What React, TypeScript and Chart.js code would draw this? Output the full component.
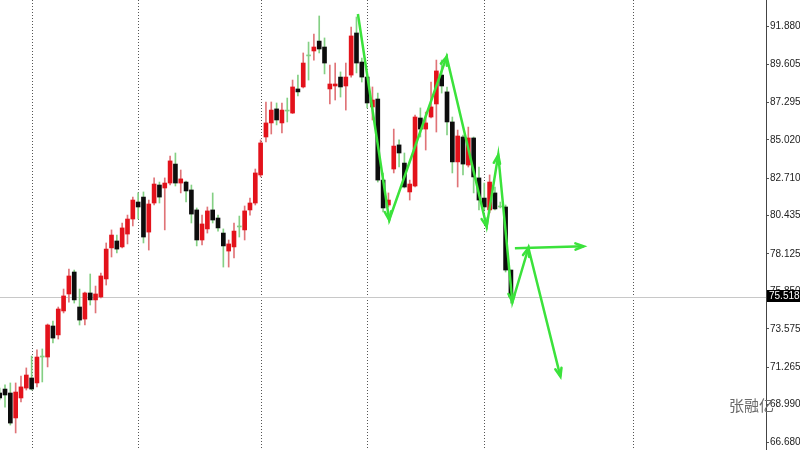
import { useEffect, useRef } from "react";
import { Chart, registerables } from "chart.js";

Chart.register(...registerables);

// Daily OHLC bars
const opens = [
  69.69, 69.93, 69.69, 68.18, 69.39, 69.99, 70.6, 70.3, 71.87, 71.87,
  73.75, 73.21, 74.66, 75.69, 77.02, 74.9, 74.17, 75.75, 75.33, 75.51,
  76.6, 78.48, 78.9, 78.54, 79.32, 80.23, 81.26, 81.56, 79.44, 81.2,
  82.29, 82.11, 82.41, 83.56, 82.41, 82.47, 81.99, 80.78, 78.96, 79.63,
  80.78, 80.29, 79.38, 78.29, 78.54, 79.75, 79.57, 80.78, 81.2, 82.9,
  85.2, 86.05, 86.9, 86.05, 86.77, 86.65, 88.11, 88.23, 90.11, 90.41,
  91.01, 90.65, 88.11, 88.29, 88.83, 88.29, 88.95, 91.5, 89.74, 88.83,
  87.02, 87.5, 82.59, 81.08, 83.26, 84.72, 83.62, 81.87, 82.23, 86.35,
  85.68, 86.41, 87.2, 88.95, 87.93, 86.11, 83.69, 85.2, 83.5, 85.14,
  82.72, 81.5, 80.78, 81.81, 80.96, 80.96, 77.14,
];
const highs = [
  69.99, 70.18, 70.3, 70.3, 70.72, 71.21, 71.93, 72.3, 72.36, 73.87,
  74.05, 74.9, 75.99, 77.2, 77.14, 75.99, 75.81, 76.9, 76.17, 76.96,
  78.78, 79.57, 79.26, 79.99, 80.47, 81.56, 81.81, 81.87, 81.38, 82.72,
  82.47, 82.72, 84.05, 84.23, 83.2, 82.53, 82.29, 80.9, 80.47, 80.96,
  81.81, 80.47, 79.63, 78.96, 79.99, 80.41, 81.02, 81.5, 83.26, 85.02,
  87.32, 87.32, 87.26, 87.26, 87.56, 88.65, 88.95, 90.29, 90.95, 91.44,
  92.53, 91.2, 89.56, 89.68, 89.14, 89.68, 91.86, 92.47, 89.98, 88.95,
  88.23, 87.86, 83.02, 81.81, 85.68, 85.02, 84.23, 82.59, 86.53, 86.96,
  86.71, 88.53, 89.86, 89.86, 88.23, 86.41, 85.62, 85.32, 85.8, 85.2,
  83.38, 82.41, 82.9, 82.17, 81.26, 81.08, 77.14,
];
const lows = [
  69.27, 68.84, 67.75, 67.27, 69.15, 69.87, 69.87, 70.06, 70.36, 71.27,
  72.72, 72.96, 74.54, 75.2, 75.14, 73.81, 73.81, 75.02, 74.54, 75.45,
  76.23, 77.93, 78.17, 78.48, 78.72, 79.81, 80.23, 78.78, 78.35, 81.08,
  81.2, 79.57, 82.29, 82.23, 81.81, 81.26, 79.99, 78.6, 78.66, 79.38,
  79.99, 79.5, 77.32, 77.32, 77.87, 79.14, 78.96, 80.47, 81.08, 82.78,
  84.9, 85.38, 85.93, 85.44, 86.11, 86.62, 87.68, 88.17, 88.65, 89.86,
  90.29, 89.02, 87.2, 87.44, 87.62, 86.83, 88.83, 89.08, 88.53, 86.96,
  86.23, 82.47, 80.66, 80.96, 83.02, 83.38, 82.11, 81.38, 82.17, 85.2,
  84.41, 86.35, 85.5, 87.86, 85.32, 83.02, 82.17, 82.9, 83.38, 81.81,
  80.78, 80.78, 80.6, 80.78, 80.9, 77.02, 75.14,
];
const closes = [
  69.39, 69.57, 67.87, 69.75, 70.06, 70.78, 69.93, 71.87, 71.87, 73.81,
  73.02, 74.78, 75.57, 76.78, 75.33, 74.11, 75.75, 75.33, 75.69, 76.78,
  78.41, 79.26, 78.41, 79.69, 80.23, 81.38, 80.96, 79.14, 81.14, 82.35,
  81.56, 82.41, 83.75, 82.41, 82.66, 81.93, 80.53, 78.96, 79.93, 80.72,
  80.17, 79.69, 78.6, 78.72, 79.5, 79.75, 80.72, 81.2, 83.02, 84.84,
  86.05, 86.83, 86.23, 86.83, 86.77, 88.23, 87.93, 89.68, 90.11, 90.65,
  90.53, 89.68, 88.41, 88.41, 88.23, 88.83, 91.32, 89.68, 88.83, 87.26,
  87.44, 82.59, 80.9, 81.38, 84.65, 84.23, 82.17, 82.35, 86.41, 85.68,
  86.05, 87.02, 89.2, 88.29, 86.11, 83.69, 85.26, 83.56, 85.14, 82.78,
  81.38, 80.96, 82.47, 80.84, 80.96, 77.14, 75.518,
];

// Price axis labels
const priceTicks = [
  91.88, 89.605, 87.295, 85.02, 82.71, 80.435, 78.125, 75.85, 73.575,
  71.265, 68.99, 66.68,
];
const lastPrice = 75.518;

// Bar indices where a new month starts
const monthStarts = [6, 26, 49, 69, 91, 119];

// Hand-drawn wave projection (bar index, price)
const waveX = [67.27, 73.15, 83.93, 91.44, 93.62, 96.28, 99.29, 105.3];
const waveY = [92.65, 80.17, 90.06, 79.77, 84.11, 75.2, 78.48, 70.68];
// Horizontal target arrow
const levelX = [96.75, 109.7];
const levelY = [78.46, 78.58];

const watermark = "张融亿";

const BODY_UP = "#e3121b";
const BODY_DOWN = "#0d0d0d";
const WICK_UP = "#e07478";
const WICK_DOWN = "#84d084";
const ARROW = "#3be23b";

const overlay = {
  id: "terminalOverlay",
  beforeDatasetsDraw(chart: any) {
    const { ctx, chartArea, scales } = chart;
    const x = scales.x;
    const y = scales.y;
    ctx.save();
    // month separators
    ctx.strokeStyle = "#555";
    ctx.lineWidth = 1;
    ctx.setLineDash([1, 2]);
    for (const m of monthStarts) {
      const px = Math.round(x.getPixelForValue(m)) + 0.5;
      ctx.beginPath();
      ctx.moveTo(px, chartArea.top);
      ctx.lineTo(px, chartArea.bottom);
      ctx.stroke();
    }
    ctx.setLineDash([]);
    // current price line
    const py = Math.round(y.getPixelForValue(lastPrice)) + 0.5;
    ctx.strokeStyle = "#c8c8c8";
    ctx.beginPath();
    ctx.moveTo(chartArea.left, py);
    ctx.lineTo(chartArea.right, py);
    ctx.stroke();
    ctx.restore();
  },
  afterDatasetsDraw(chart: any) {
    const { ctx } = chart;
    ctx.save();
    ctx.strokeStyle = ARROW;
    ctx.lineWidth = 2.5;
    ctx.lineCap = "round";
    const head = (x0: number, y0: number, x1: number, y1: number) => {
      const a = Math.atan2(y1 - y0, x1 - x0);
      const len = 9;
      const spread = 0.36;
      ctx.beginPath();
      ctx.moveTo(x1 - len * Math.cos(a - spread), y1 - len * Math.sin(a - spread));
      ctx.lineTo(x1, y1);
      ctx.lineTo(x1 - len * Math.cos(a + spread), y1 - len * Math.sin(a + spread));
      ctx.stroke();
    };
    for (const di of [0, 1]) {
      const pts = chart.getDatasetMeta(di).data;
      for (let i = 1; i < pts.length; i++) {
        head(pts[i - 1].x, pts[i - 1].y, pts[i].x, pts[i].y);
      }
    }
    ctx.restore();
  },
  afterDraw(chart: any) {
    const { ctx, scales } = chart;
    const y = scales.y;
    ctx.save();
    const py = Math.round(y.getPixelForValue(lastPrice));
    ctx.fillStyle = "#000";
    ctx.fillRect(767, py - 7, 33, 12);
    ctx.fillStyle = "#fff";
    ctx.font = "10px 'Liberation Sans', sans-serif";
    ctx.textBaseline = "middle";
    ctx.textAlign = "left";
    ctx.fillText(lastPrice.toFixed(3), 769, py - 0.5);
    ctx.fillStyle = "#6a6a6a";
    ctx.font = "15px 'Noto Sans CJK SC', sans-serif";
    ctx.fillText(watermark, 729, 405);
    ctx.restore();
  },
};

export default function App() {
  const ref = useRef<HTMLCanvasElement | null>(null);

  useEffect(() => {
    if (!ref.current) return;
    const idx = opens.map((_, i) => i);
    const dir = (i: number) =>
      closes[i] > opens[i] ? 1 : closes[i] < opens[i] ? -1 : 0;

    const chart = new Chart(ref.current, {
      type: "bar",
      data: {
        datasets: [
          {
            type: "line",
            data: waveX.map((x, i) => ({ x, y: waveY[i] })),
            borderColor: ARROW,
            borderWidth: 2.5,
            pointRadius: 0,
            tension: 0,
            order: 0,
          } as any,
          {
            type: "line",
            data: levelX.map((x, i) => ({ x, y: levelY[i] })),
            borderColor: ARROW,
            borderWidth: 2.5,
            pointRadius: 0,
            tension: 0,
            order: 0,
          } as any,
          {
            type: "bar",
            data: idx.map((i) => ({ x: i, y: [opens[i], closes[i]] })),
            backgroundColor: idx.map((i) =>
              dir(i) > 0 ? BODY_UP : dir(i) < 0 ? BODY_DOWN : WICK_DOWN
            ),
            barThickness: 4,
            minBarLength: 1,
            grouped: false,
            order: 1,
          } as any,
          {
            type: "bar",
            data: idx.map((i) => ({ x: i, y: [lows[i], highs[i]] })),
            backgroundColor: idx.map((i) => (dir(i) > 0 ? WICK_UP : WICK_DOWN)),
            barThickness: 1,
            grouped: false,
            order: 2,
          } as any,
        ],
      },
      options: {
        responsive: false,
        animation: false,
        devicePixelRatio: 1,
        layout: { padding: 0 },
        plugins: {
          legend: { display: false },
          tooltip: { enabled: false },
        },
        scales: {
          x: {
            type: "linear",
            min: 0.06,
            max: 143.9,
            offset: false,
            display: false,
          },
          y: {
            position: "right",
            min: 66.238,
            max: 93.498,
            afterBuildTicks: (s: any) => {
              s.ticks = priceTicks.map((v) => ({ value: v }));
            },
            afterFit: (s: any) => {
              s.width = 34;
              s.paddingTop = 0;
              s.paddingBottom = 0;
            },
            grid: {
              drawOnChartArea: false,
              drawTicks: true,
              tickLength: 3,
              color: "#555",
            },
            border: { display: true, color: "#444", width: 1 },
            ticks: {
              autoSkip: false,
              padding: 1,
              color: "#222",
              font: { family: "'Liberation Sans', sans-serif", size: 10 },
              callback: (v: any) => Number(v).toFixed(3),
            },
          },
        },
      } as any,
      plugins: [overlay],
    });
    return () => chart.destroy();
  }, []);

  return (
    <div
      style={{
        position: "fixed",
        left: 0,
        top: 0,
        width: 800,
        height: 450,
        background: "#fff",
      }}
    >
      <canvas ref={ref} width={800} height={450} />
    </div>
  );
}
